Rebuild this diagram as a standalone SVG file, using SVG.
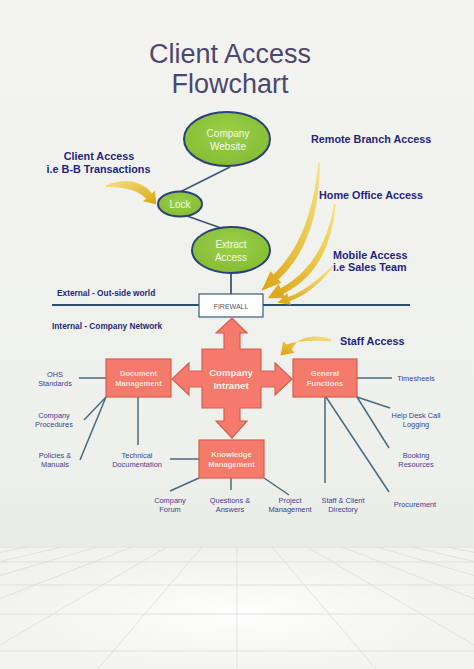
<svg xmlns="http://www.w3.org/2000/svg" width="474" height="669" viewBox="0 0 474 669">
<defs>
<linearGradient id="bg" x1="0" y1="0" x2="0" y2="1">
<stop offset="0" stop-color="#f3f4f0"/>
<stop offset="0.7" stop-color="#eef0eb"/>
<stop offset="0.815" stop-color="#e9ebe5"/>
<stop offset="0.818" stop-color="#f1f2ee"/>
<stop offset="1" stop-color="#f3f4f0"/>
</linearGradient>
<radialGradient id="floorHi" cx="0.5" cy="0.55" r="0.5">
<stop offset="0" stop-color="#ffffff" stop-opacity="0.9"/>
<stop offset="1" stop-color="#ffffff" stop-opacity="0"/>
</radialGradient>
<linearGradient id="goldA" x1="0" y1="1" x2="1" y2="0">
<stop offset="0" stop-color="#dca412"/>
<stop offset="1" stop-color="#f6e27e"/>
</linearGradient>
<linearGradient id="goldB" x1="1" y1="1" x2="0" y2="0">
<stop offset="0" stop-color="#dca412"/>
<stop offset="1" stop-color="#f6e27e"/>
</linearGradient>
<radialGradient id="green" cx="0.5" cy="0.4" r="0.6">
<stop offset="0" stop-color="#9ccf4a"/>
<stop offset="1" stop-color="#84bd34"/>
</radialGradient>
<style>
.title{font-family:"Liberation Sans",Arial,sans-serif;font-size:27px;fill:#4d4670;text-anchor:middle}
.acc{font-family:"Liberation Sans",Arial,sans-serif;font-size:10.8px;font-weight:bold;fill:#1f2680}
.zone{font-family:"Liberation Sans",Arial,sans-serif;font-size:8.3px;font-weight:bold;fill:#262a78}
.small{font-family:"Liberation Sans",Arial,sans-serif;font-size:7.4px;fill:#3d3d96;text-anchor:middle}
.etext{font-family:"Liberation Sans",Arial,sans-serif;font-size:10px;fill:#f4faea;text-anchor:middle}
.btext{font-family:"Liberation Sans",Arial,sans-serif;font-size:7.6px;font-weight:bold;fill:#fde2dc;text-anchor:middle}
.itext{font-family:"Liberation Sans",Arial,sans-serif;font-size:9.6px;font-weight:bold;fill:#fff0ec;text-anchor:middle}
.ell{fill:url(#green);stroke:#2b3f7c;stroke-width:2}
.box{fill:#f47b6b;stroke:#d65f4f;stroke-width:1.2}
.main{stroke:#3c5870;stroke-width:1.8;fill:none}
.link{stroke:#4b6a78;stroke-width:1.5;fill:none}
.grid{stroke:#d9dcd8;stroke-width:0.8;fill:none}
</style>
</defs>

<g id="background">
<rect x="0" y="0" width="474" height="669" fill="url(#bg)"/>
<rect x="0" y="547" width="474" height="122" fill="url(#floorHi)"/>
<g class="grid">
<line x1="0" y1="547" x2="474" y2="547"/>
<line x1="0" y1="562" x2="474" y2="562"/>
<line x1="0" y1="585" x2="474" y2="585"/>
<line x1="0" y1="614" x2="474" y2="614"/>
<line x1="0" y1="651" x2="474" y2="651"/>
<line x1="237" y1="547" x2="237" y2="669"/>
<line x1="202" y1="547" x2="98" y2="669"/>
<line x1="167" y1="547" x2="-41" y2="669"/>
<line x1="132" y1="547" x2="-180" y2="669"/>
<line x1="97" y1="547" x2="-319" y2="669"/>
<line x1="62" y1="547" x2="-458" y2="669"/>
<line x1="27" y1="547" x2="-597" y2="669"/>
<line x1="272" y1="547" x2="376" y2="669"/>
<line x1="307" y1="547" x2="515" y2="669"/>
<line x1="342" y1="547" x2="654" y2="669"/>
<line x1="377" y1="547" x2="793" y2="669"/>
<line x1="412" y1="547" x2="932" y2="669"/>
<line x1="447" y1="547" x2="1071" y2="669"/>
</g>
</g>

<g id="title">
<text class="title" x="230" y="63">Client Access</text>
<text class="title" x="230" y="93">Flowchart</text>
</g>

<g id="connectors">
<line class="main" x1="230" y1="167" x2="180" y2="192"/>
<line class="main" x1="187" y1="216" x2="221" y2="228"/>
<line class="main" x1="231" y1="273" x2="231" y2="294"/>
<line x1="52" y1="305" x2="410" y2="305" stroke="#2d5070" stroke-width="2"/>
<line class="link" x1="79" y1="378" x2="106" y2="378"/>
<line class="link" x1="106" y1="397" x2="84" y2="420"/>
<line class="link" x1="106" y1="397" x2="80" y2="460"/>
<line class="link" x1="138" y1="397" x2="138" y2="445"/>
<line class="link" x1="199" y1="459" x2="170" y2="459"/>
<line class="link" x1="199" y1="478" x2="170" y2="491"/>
<line class="link" x1="231" y1="478" x2="231" y2="490"/>
<line class="link" x1="264" y1="478" x2="289" y2="495"/>
<line class="link" x1="325" y1="397" x2="325" y2="483"/>
<line class="link" x1="326" y1="397" x2="389" y2="492"/>
<line class="link" x1="357" y1="378" x2="392" y2="378"/>
<line class="link" x1="357" y1="397" x2="390" y2="408"/>
<line class="link" x1="357" y1="397" x2="389" y2="448"/>
<g id="access-arrows">
<path fill="url(#goldA)" d="M 319.8 163 Q 319.5 242 278.4 279.5 L 273.6 274.5 Q 311.5 238 318.2 163 Z M 281.5 282.8 L 261.5 290.8 L 270.5 271.2 Z"/>
<path fill="url(#goldA)" d="M 335.8 204 Q 330 271 283.4 293.7 L 280.6 288.3 Q 324 265 334.2 204 Z M 285.6 298.1 L 267.7 298.3 L 278.4 283.9 Z"/>
<path fill="url(#goldA)" d="M 333.5 266.5 Q 312 294 289.6 300.9 L 288.4 297.1 Q 308 290 332.5 265.5 Z M 290.9 304.7 L 277.6 302.8 L 287.1 293.3 Z"/>
<path fill="url(#goldB)" d="M 106 185 Q 136 174 152 193.4 L 146 198.6 Q 134 186 106 187 Z M 143 201.3 L 156.2 204.3 L 155 190.7 Z"/>
<path fill="url(#goldA)" d="M 331 338.8 Q 301 331 291.5 349.5 L 286.5 344.5 Q 300 339.5 331 341.2 Z M 294.7 352.7 L 280.5 355.5 L 283.3 341.3 Z"/>
</g>
</g>

<g id="node-website">
<ellipse class="ell" cx="227" cy="139" rx="43" ry="27"/>
<text class="etext" x="228" y="137">Company</text>
<text class="etext" x="228" y="150">Website</text>
</g>
<g id="node-lock">
<ellipse class="ell" cx="180" cy="204" rx="22" ry="12.5"/>
<text class="etext" x="180" y="208">Lock</text>
</g>
<g id="node-extract">
<ellipse class="ell" cx="231" cy="250" rx="39" ry="23"/>
<text class="etext" x="231" y="248">Extract</text>
<text class="etext" x="231" y="261">Access</text>
</g>
<g id="node-firewall">
<rect x="199" y="294" width="64" height="23" fill="#ffffff" stroke="#3a5a78" stroke-width="1.2"/>
<text x="231" y="308.5" font-family="Liberation Sans, Arial, sans-serif" font-size="7" fill="#555a60" text-anchor="middle">FIREWALL</text>
</g>

<g id="label-client-access">
<text class="acc" x="99" y="160" text-anchor="middle">Client Access</text>
<text class="acc" x="98.5" y="173" text-anchor="middle">i.e B-B Transactions</text>
</g>
<g id="label-remote">
<text class="acc" x="311" y="143">Remote Branch Access</text>
</g>
<g id="label-home">
<text class="acc" x="319" y="199">Home Office Access</text>
</g>
<g id="label-mobile">
<text class="acc" x="333" y="259">Mobile Access</text>
<text class="acc" x="333" y="271">i.e Sales Team</text>
</g>
<g id="label-staff">
<text class="acc" x="340" y="345">Staff Access</text>
</g>
<g id="label-zones">
<text class="zone" x="57" y="296">External - Out-side world</text>
<text class="zone" x="52" y="329">Internal - Company Network</text>
</g>

<g id="node-intranet">
<path class="box" d="M 232 318 L 247 333 L 240 333 L 240 349 L 261 349 L 261 371 L 275 371 L 275 363 L 292 379 L 275 395 L 275 387 L 261 387 L 261 408 L 240 408 L 240 421 L 247 421 L 232 438 L 216 421 L 224 421 L 224 408 L 202 408 L 202 387 L 189 387 L 189 395 L 172 379 L 189 363 L 189 371 L 202 371 L 202 349 L 224 349 L 224 333 L 216 333 Z"/>
<text class="itext" x="231" y="376">Company</text>
<text class="itext" x="231" y="389">Intranet</text>
</g>
<g id="node-document">
<rect class="box" x="106" y="359" width="65" height="38"/>
<text class="btext" x="138.5" y="376">Document</text>
<text class="btext" x="138.5" y="386">Management</text>
</g>
<g id="node-general">
<rect class="box" x="293" y="359" width="64" height="38"/>
<text class="btext" x="325" y="376">General</text>
<text class="btext" x="325" y="386">Functions</text>
</g>
<g id="node-knowledge">
<rect class="box" x="199" y="440" width="65" height="38"/>
<text class="btext" x="231.5" y="457">Knowledge</text>
<text class="btext" x="231.5" y="467">Management</text>
</g>

<g id="node-ohs"><text class="small" x="55" y="377"><tspan x="55">OHS</tspan><tspan x="55" dy="9">Standards</tspan></text></g>
<g id="node-procedures"><text class="small" x="54" y="417.6"><tspan x="54">Company</tspan><tspan x="54" dy="9">Procedures</tspan></text></g>
<g id="node-policies"><text class="small" x="55" y="457.6"><tspan x="55">Policies &amp;</tspan><tspan x="55" dy="9">Manuals</tspan></text></g>
<g id="node-technical"><text class="small" x="137" y="457.6"><tspan x="137">Technical</tspan><tspan x="137" dy="9">Documentation</tspan></text></g>
<g id="node-forum"><text class="small" x="170" y="502.6"><tspan x="170">Company</tspan><tspan x="170" dy="9">Forum</tspan></text></g>
<g id="node-qa"><text class="small" x="230" y="502.6"><tspan x="230">Questions &amp;</tspan><tspan x="230" dy="9">Answers</tspan></text></g>
<g id="node-project"><text class="small" x="290" y="502.6"><tspan x="290">Project</tspan><tspan x="290" dy="9">Management</tspan></text></g>
<g id="node-directory"><text class="small" x="343" y="502.6"><tspan x="343">Staff &amp; Client</tspan><tspan x="343" dy="9">Directory</tspan></text></g>
<g id="node-procurement"><text class="small" x="415" y="506.6">Procurement</text></g>
<g id="node-timesheets"><text class="small" x="416" y="380.6">Timesheels</text></g>
<g id="node-helpdesk"><text class="small" x="416" y="417.6"><tspan x="416">Help Desk Call</tspan><tspan x="416" dy="9">Logging</tspan></text></g>
<g id="node-booking"><text class="small" x="416" y="457.6"><tspan x="416">Booking</tspan><tspan x="416" dy="9">Resources</tspan></text></g>
</svg>
